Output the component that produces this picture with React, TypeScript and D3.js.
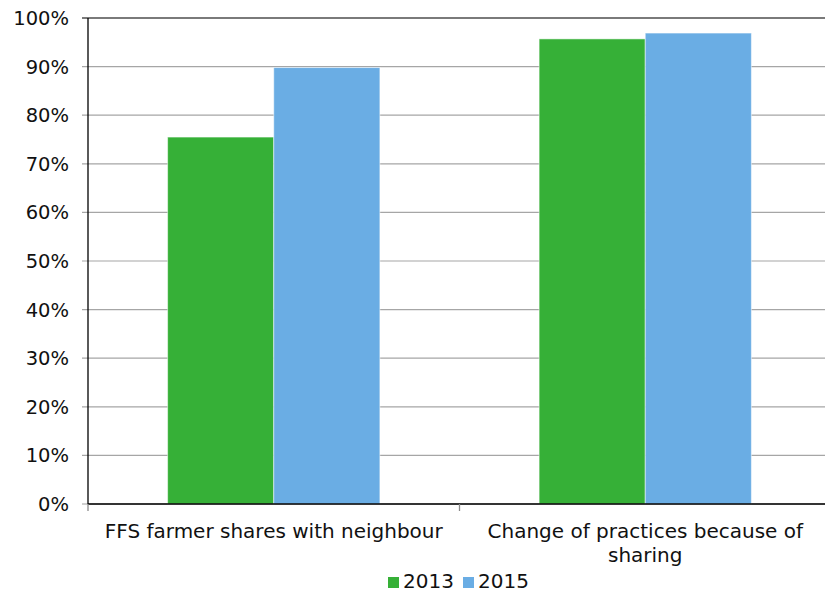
import React from "react";
import * as d3 from "d3";

const categories = ["FFS farmer shares with neighbour", "Change of practices because of sharing"];
const categoryLines = [["FFS farmer shares with neighbour"], ["Change of practices because of", "sharing"]];
const seriesNames = ["2013", "2015"];
const values2013 = [0.755, 0.957];
const values2015 = [0.898, 0.969];
const yTicks = [0, 0.1, 0.2, 0.3, 0.4, 0.5, 0.6, 0.7, 0.8, 0.9, 1.0];
const colors = ["#36b037", "#6aade4"];

const W = 825;
const H = 593;
const margin = { left: 88, right: -6, top: 18, bottom: 89 };

export default function App() {
  const x0 = d3
    .scaleBand<string>()
    .domain(categories)
    .range([margin.left, W - margin.right])
    .paddingInner(0)
    .paddingOuter(0);
  const barW = x0.bandwidth() * 0.2857;
  const y = d3.scaleLinear().domain([0, 1]).range([H - margin.bottom, margin.top]);
  const fmt = d3.format(".0%");
  const font = "'DejaVu Sans', Verdana, sans-serif";
  const series = [values2013, values2015];

  return (
    <svg
      width={W}
      height={H}
      style={{ position: "absolute", left: 0, top: 0, background: "#fff" }}
      fontFamily={font}
    >
      {/* gridlines */}
      {yTicks.map((t) => (
        <line
          key={"g" + t}
          x1={margin.left - 6}
          x2={W}
          y1={y(t)}
          y2={y(t)}
          stroke={t === 1 ? "#7a7a7a" : t === 0 ? "#a0a0a0" : "#a6a6a6"}
          strokeWidth={t === 1 ? 2 : 1.2}
        />
      ))}
      {/* bars */}
      {categories.map((c, i) => {
        const cx = (x0(c) as number) + x0.bandwidth() / 2;
        return series.map((vals, s) => (
          <rect
            key={c + s}
            x={cx - barW + s * barW}
            y={y(vals[i])}
            width={barW}
            height={y(0) - y(vals[i])}
            fill={colors[s]}
            stroke="#ffffff"
            strokeOpacity={0.5}
            strokeWidth={1}
          />
        ));
      })}
      {/* axes */}
      <line x1={margin.left} x2={margin.left} y1={y(1)} y2={y(0)} stroke="#000" strokeWidth={1.3} />
      <line x1={margin.left} x2={W} y1={y(0)} y2={y(0)} stroke="#000" strokeWidth={1.5} />
      {categories.map((c) => (
        <line
          key={"xt" + c}
          x1={x0(c) as number}
          x2={x0(c) as number}
          y1={y(0)}
          y2={y(0) + 7}
          stroke="#8a8a8a"
          strokeWidth={1.3}
        />
      ))}
      {yTicks.map((t) => (
        <text
          key={"yl" + t}
          x={69}
          y={y(t)}
          dy="0.36em"
          textAnchor="end"
          fontSize={19.5}
          fill="#111"
        >
          {fmt(t)}
        </text>
      ))}
      {categories.map((c, i) => {
        const cx = (x0(c) as number) + x0.bandwidth() / 2;
        return categoryLines[i].map((ln, k) => (
          <text
            key={c + k}
            x={cx}
            y={538 + k * 24}
            textAnchor="middle"
            fontSize={20}
            fill="#111"
          >
            {ln}
          </text>
        ));
      })}
      {/* legend */}
      {seriesNames.map((s, i) => {
        const lx = 388 + i * 75;
        return (
          <g key={s}>
            <rect x={lx} y={577} width={11} height={11} fill={colors[i]} />
            <text x={lx + 15} y={588} fontSize={20} fill="#111">
              {s}
            </text>
          </g>
        );
      })}
    </svg>
  );
}
